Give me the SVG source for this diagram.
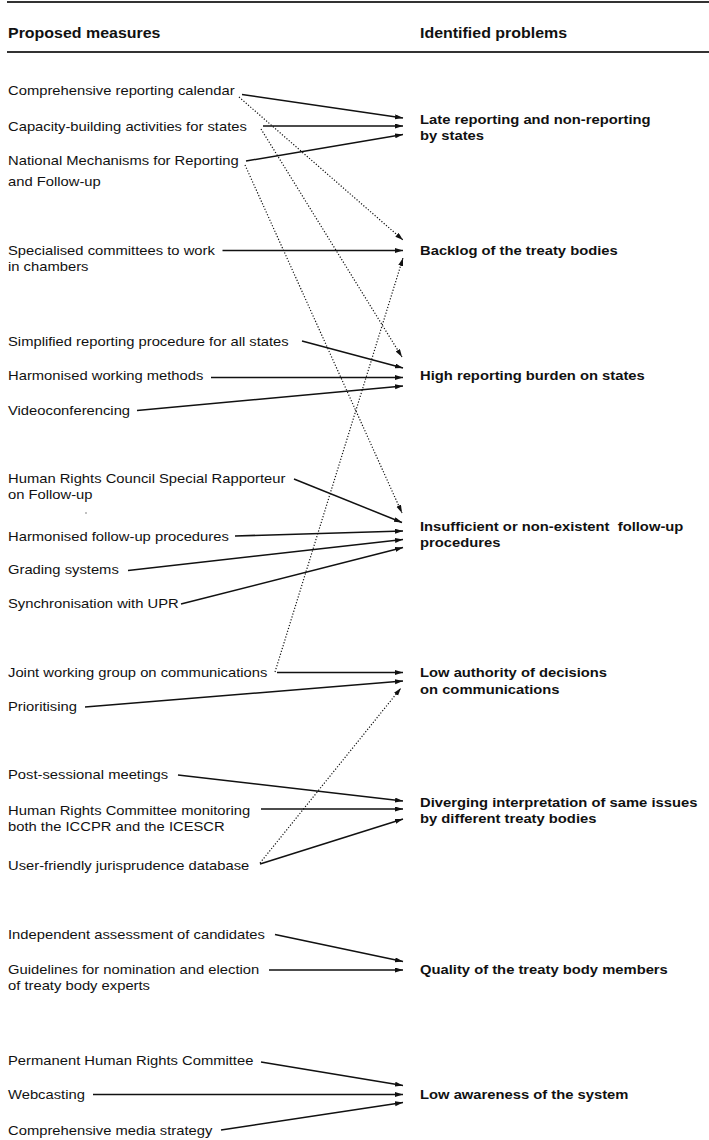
<svg xmlns="http://www.w3.org/2000/svg" width="709" height="1140" viewBox="0 0 709 1140">
<style>
.t{font-family:"Liberation Sans",Arial,sans-serif;font-size:13px;fill:#111}
.b{font-weight:bold}
.h{font-family:"Liberation Sans",Arial,sans-serif;font-size:14px;font-weight:bold;fill:#111}
.s{stroke:#111;stroke-width:1.5;fill:none;marker-end:url(#ah)}
.d{stroke:#111;stroke-width:1.2;stroke-dasharray:1.2 1.8;fill:none;marker-end:url(#ah)}
.rule{stroke:#333;stroke-width:2}
</style>
<defs>
<marker id="ah" markerUnits="userSpaceOnUse" markerWidth="9" markerHeight="6" refX="8" refY="2.5" orient="auto">
<path d="M0,0 L8,2.5 L0,5 z" fill="#111"/>
</marker>
</defs>
<rect width="709" height="1140" fill="#fff"/>
<g id="header">
<line class="rule" x1="7" y1="2" x2="709" y2="2"/>
<line class="rule" x1="7" y1="52" x2="709" y2="52"/>
<text class="h" transform="translate(8,38) scale(1.14,1)">Proposed measures</text>
<text class="h" transform="translate(420,38) scale(1.14,1)">Identified problems</text>
</g>
<g id="connectors">
<line class="s" x1="242" y1="94.5" x2="403" y2="118"/>
<line class="s" x1="263" y1="126" x2="403" y2="126"/>
<line class="s" x1="246" y1="161" x2="403" y2="134.5"/>
<line class="s" x1="222.5" y1="250.5" x2="403" y2="250.5"/>
<line class="s" x1="302" y1="341" x2="403" y2="368"/>
<line class="s" x1="211" y1="377.5" x2="403" y2="377.5"/>
<line class="s" x1="137" y1="410.5" x2="403" y2="386"/>
<line class="s" x1="294" y1="479" x2="402" y2="522.5"/>
<line class="s" x1="235" y1="536" x2="403" y2="531"/>
<line class="s" x1="128" y1="570.5" x2="403" y2="539.5"/>
<line class="s" x1="181" y1="604" x2="403" y2="547.5"/>
<line class="s" x1="277" y1="672.5" x2="403" y2="672.5"/>
<line class="s" x1="85" y1="707" x2="403" y2="681"/>
<line class="s" x1="178" y1="775" x2="403" y2="801"/>
<line class="s" x1="261" y1="809" x2="403" y2="809"/>
<line class="s" x1="260" y1="864" x2="403" y2="819"/>
<line class="s" x1="275" y1="934.5" x2="403" y2="961.5"/>
<line class="s" x1="269" y1="970" x2="403" y2="970"/>
<line class="s" x1="261" y1="1062" x2="403" y2="1085.5"/>
<line class="s" x1="93" y1="1094.5" x2="403" y2="1094.5"/>
<line class="s" x1="221" y1="1130" x2="403" y2="1102.5"/>
<line class="d" x1="239" y1="97" x2="403" y2="240"/>
<line class="d" x1="261" y1="129" x2="402" y2="357"/>
<line class="d" x1="245" y1="165" x2="402" y2="513"/>
<line class="d" x1="275" y1="672" x2="403" y2="258"/>
<line class="d" x1="260" y1="863" x2="401" y2="688"/>
</g>
<g id="m-calendar"><text class="t" transform="translate(8,95) scale(1.137,1)">Comprehensive reporting calendar</text></g>
<g id="m-capacity"><text class="t" transform="translate(8,131) scale(1.137,1)">Capacity-building activities for states</text></g>
<g id="m-national"><text class="t" transform="translate(8,165) scale(1.137,1)">National Mechanisms for Reporting<tspan x="0" dy="21">and Follow-up</tspan></text></g>
<g id="m-specialised"><text class="t" transform="translate(8,254.5) scale(1.137,1)">Specialised committees to work<tspan x="0" dy="16.5">in chambers</tspan></text></g>
<g id="m-simplified"><text class="t" transform="translate(8,346) scale(1.137,1)">Simplified reporting procedure for all states</text></g>
<g id="m-harmonised-methods"><text class="t" transform="translate(8,380) scale(1.137,1)">Harmonised working methods</text></g>
<g id="m-video"><text class="t" transform="translate(8,414.5) scale(1.137,1)">Videoconferencing</text></g>
<g id="m-hrc-rapporteur"><text class="t" transform="translate(8,483) scale(1.137,1)">Human Rights Council Special Rapporteur<tspan x="0" dy="16.5">on Follow-up</tspan></text>
<circle cx="86" cy="513" r="0.7" fill="#555"/></g>
<g id="m-harmonised-followup"><text class="t" transform="translate(8,540.5) scale(1.137,1)">Harmonised follow-up procedures</text></g>
<g id="m-grading"><text class="t" transform="translate(8,574) scale(1.137,1)">Grading systems</text></g>
<g id="m-upr"><text class="t" transform="translate(8,608) scale(1.137,1)">Synchronisation with UPR</text></g>
<g id="m-joint"><text class="t" transform="translate(8,677) scale(1.137,1)">Joint working group on communications</text></g>
<g id="m-prioritising"><text class="t" transform="translate(8,710.5) scale(1.137,1)">Prioritising</text></g>
<g id="m-post-sessional"><text class="t" transform="translate(8,779) scale(1.137,1)">Post-sessional meetings</text></g>
<g id="m-hrc-monitoring"><text class="t" transform="translate(8,814.5) scale(1.137,1)">Human Rights Committee monitoring<tspan x="0" dy="16.5">both the ICCPR and the ICESCR</tspan></text></g>
<g id="m-database"><text class="t" transform="translate(8,869.5) scale(1.137,1)">User-friendly jurisprudence database</text></g>
<g id="m-assessment"><text class="t" transform="translate(8,939) scale(1.137,1)">Independent assessment of candidates</text></g>
<g id="m-guidelines"><text class="t" transform="translate(8,974) scale(1.137,1)">Guidelines for nomination and election<tspan x="0" dy="16.5">of treaty body experts</tspan></text></g>
<g id="m-permanent"><text class="t" transform="translate(8,1065) scale(1.137,1)">Permanent Human Rights Committee</text></g>
<g id="m-webcasting"><text class="t" transform="translate(8,1098.5) scale(1.137,1)">Webcasting</text></g>
<g id="m-media"><text class="t" transform="translate(8,1134.5) scale(1.137,1)">Comprehensive media strategy</text></g>
<g id="p-late"><text class="t b" transform="translate(420,123.5) scale(1.137,1)">Late reporting and non-reporting<tspan x="0" dy="17">by states</tspan></text></g>
<g id="p-backlog"><text class="t b" transform="translate(420,254.5) scale(1.137,1)">Backlog of the treaty bodies</text></g>
<g id="p-burden"><text class="t b" transform="translate(420,380) scale(1.137,1)">High reporting burden on states</text></g>
<g id="p-followup"><text class="t b" transform="translate(420,530.5) scale(1.137,1)" xml:space="preserve">Insufficient or non-existent  follow-up<tspan x="0" dy="16.5">procedures</tspan></text></g>
<g id="p-authority"><text class="t b" transform="translate(420,677) scale(1.137,1)">Low authority of decisions<tspan x="0" dy="17">on communications</tspan></text></g>
<g id="p-diverging"><text class="t b" transform="translate(420,807) scale(1.137,1)">Diverging interpretation of same issues<tspan x="0" dy="16">by different treaty bodies</tspan></text></g>
<g id="p-quality"><text class="t b" transform="translate(420,974) scale(1.137,1)">Quality of the treaty body members</text></g>
<g id="p-awareness"><text class="t b" transform="translate(420,1098.5) scale(1.137,1)">Low awareness of the system</text></g>
</svg>
